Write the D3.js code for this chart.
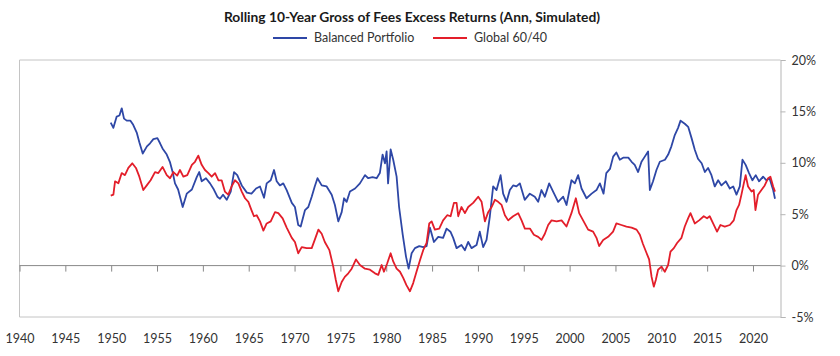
<!DOCTYPE html>
<html><head><meta charset="utf-8">
<script src="https://cdn.jsdelivr.net/npm/d3@7"></script>
<style>
html,body{margin:0;padding:0;background:#fff;}
text{font-family:Lato,"Open Sans",sans-serif;}
</style></head><body>
<svg id="chart" width="840" height="356"></svg>
<script>
const title = "Rolling 10-Year Gross of Fees Excess Returns (Ann, Simulated)";
const seriesNames = ["Balanced Portfolio", "Global 60/40"];
const xTicks = [1940,1945,1950,1955,1960,1965,1970,1975,1980,1985,1990,1995,2000,2005,2010,2015,2020];
const yTicks = [-5,0,5,10,15,20];

const blueDates = [1949.95,1950.24,1950.6,1950.9,1951.15,1951.4,1951.7,1952.1,1952.4,1952.8,1953.07,1953.44,1953.9,1954.24,1954.6,1955.04,1955.33,1955.6,1956.06,1956.4,1956.7,1956.96,1957.3,1957.8,1958.24,1958.8,1959.33,1959.6,1959.87,1960.34,1960.78,1961.2,1961.58,1961.87,1962.2,1962.6,1963.04,1963.4,1963.75,1964.24,1964.8,1965.3,1965.8,1966.23,1966.67,1966.96,1967.4,1967.76,1968.05,1968.4,1968.77,1969.14,1969.7,1970.04,1970.4,1970.67,1971.14,1971.5,1971.87,1972.2,1972.5,1972.96,1973.5,1974.05,1974.4,1974.77,1975.14,1975.4,1975.68,1976.04,1976.6,1977.13,1977.68,1978.04,1978.5,1978.95,1979.3,1979.6,1979.86,1980.04,1980.2,1980.48,1980.76,1981.13,1981.4,1981.8,1982.15,1982.44,1982.77,1983.13,1983.6,1984.03,1984.4,1984.76,1985.2,1985.67,1986.2,1986.58,1987.0,1987.3,1987.67,1988.2,1988.58,1988.94,1989.3,1989.85,1990.2,1990.57,1990.94,1991.3,1991.66,1992.03,1992.47,1992.75,1993.12,1993.48,1993.84,1994.2,1994.57,1995.1,1995.66,1996.2,1996.57,1996.93,1997.3,1997.77,1998.2,1998.75,1999.3,1999.66,2000.2,2000.57,2000.93,2001.3,2001.84,2002.4,2002.93,2003.3,2003.7,2004.0,2004.4,2004.75,2005.1,2005.47,2005.84,2006.4,2006.76,2007.1,2007.47,2007.84,2008.2,2008.56,2008.75,2009.1,2009.47,2009.84,2010.4,2010.75,2011.1,2011.47,2011.83,2012.1,2012.56,2012.93,2013.3,2013.66,2014.0,2014.4,2014.75,2015.1,2015.47,2015.83,2016.2,2016.56,2017.03,2017.47,2017.84,2018.2,2018.56,2018.85,2019.2,2019.57,2019.94,2020.3,2020.66,2021.1,2021.47,2021.8,2022.2,2022.4];
const blueValues = [13.9,13.4,14.5,14.6,15.3,14.3,14.1,14.1,13.7,12.9,12.0,10.9,11.6,11.9,12.3,12.4,11.9,11.4,10.8,10.1,9.1,8.0,7.4,5.7,7.0,7.4,8.6,9.1,8.2,8.5,8.0,7.4,6.7,6.5,6.9,6.4,7.2,9.1,8.8,7.8,7.1,7.0,7.5,7.7,6.6,8.0,8.3,9.3,8.2,7.8,8.0,7.35,6.1,5.7,3.95,3.8,5.4,5.7,6.7,7.7,8.5,7.8,7.7,6.9,5.9,4.3,5.2,6.55,6.2,7.2,7.5,8.0,8.8,8.5,8.6,8.5,9.0,10.8,9.95,11.1,8.0,11.3,10.3,8.65,5.7,3.0,0.9,-0.3,1.2,1.7,1.9,1.8,1.9,3.7,2.3,2.8,2.7,3.6,3.3,2.7,1.7,2.0,1.5,2.3,1.7,2.0,3.3,1.8,2.5,4.8,7.7,7.35,8.8,7.0,6.2,7.35,7.8,7.7,8.0,6.4,7.0,6.7,6.2,7.35,6.7,8.0,7.2,6.2,6.7,5.9,8.3,8.0,8.8,7.5,6.55,7.0,7.35,8.0,7.0,9.0,9.4,10.6,11.0,10.3,10.5,10.5,10.1,9.8,9.1,10.1,10.6,11.1,7.35,8.2,9.3,10.1,10.3,10.8,11.6,12.7,13.4,14.1,13.8,13.5,12.4,11.25,10.4,9.95,9.1,9.5,8.8,7.7,8.3,7.8,8.2,7.5,7.7,6.9,7.7,10.3,9.8,9.0,8.3,8.8,8.2,8.65,8.3,8.5,7.35,6.5];

const redDates = [1949.95,1950.24,1950.42,1950.78,1951.15,1951.5,1951.87,1952.3,1952.7,1953.07,1953.5,1953.88,1954.3,1954.78,1955.14,1955.6,1956.06,1956.42,1956.78,1957.2,1957.5,1957.87,1958.3,1958.8,1959.14,1959.5,1959.87,1960.23,1960.6,1960.96,1961.33,1961.7,1962.05,1962.4,1962.77,1963.14,1963.5,1963.87,1964.24,1964.6,1964.96,1965.3,1965.57,1965.87,1966.23,1966.6,1966.96,1967.4,1967.87,1968.23,1968.7,1969.14,1969.7,1970.04,1970.4,1970.78,1971.32,1971.87,1972.2,1972.6,1972.96,1973.3,1973.8,1974.22,1974.5,1974.77,1975.14,1975.48,1975.86,1976.23,1976.7,1977.13,1977.68,1978.22,1978.77,1979.13,1979.5,1979.75,1980.1,1980.48,1980.76,1981.13,1981.5,1981.85,1982.2,1982.58,1982.94,1983.3,1983.67,1984.03,1984.4,1984.69,1984.95,1985.3,1985.78,1986.2,1986.65,1987.02,1987.38,1987.67,1987.85,1988.2,1988.58,1988.94,1989.48,1990.03,1990.4,1990.76,1991.12,1991.49,1991.85,1992.2,1992.58,1992.94,1993.3,1993.84,1994.39,1994.76,1995.12,1995.67,1996.1,1996.57,1996.94,1997.3,1997.66,1998.03,1998.58,1999.12,1999.66,2000.2,2000.68,2001.04,2001.47,2002.02,2002.56,2002.93,2003.22,2003.66,2004.2,2004.74,2005.1,2005.65,2006.2,2006.76,2007.3,2007.66,2008.0,2008.4,2008.67,2008.94,2009.18,2009.4,2009.65,2010.02,2010.38,2010.74,2011.0,2011.37,2011.72,2012.2,2012.56,2012.92,2013.18,2013.65,2014.12,2014.63,2014.99,2015.28,2015.65,2016.08,2016.45,2016.92,2017.47,2017.9,2018.2,2018.48,2018.74,2019.0,2019.2,2019.46,2019.84,2020.08,2020.27,2020.55,2020.92,2021.28,2021.65,2021.9,2022.2,2022.4];
const redValues = [6.8,6.9,8.2,8.0,9.0,8.8,9.5,9.95,9.5,8.65,7.35,7.8,8.3,9.1,9.0,9.6,8.8,8.5,9.1,8.75,9.3,8.65,8.8,9.8,10.1,10.7,9.8,9.3,9.0,8.65,9.0,8.3,8.3,7.2,6.9,7.7,8.3,8.0,7.2,6.55,6.2,5.4,4.8,4.9,4.3,3.4,4.1,4.3,5.2,5.1,4.6,3.7,2.7,2.3,1.2,1.8,1.7,1.7,2.5,3.5,3.1,2.3,1.5,-0.1,-1.4,-2.5,-1.6,-1.1,-0.75,-0.3,0.6,0.06,-0.3,-0.4,-0.75,-0.9,0.06,-0.6,0.2,1.2,0.4,-0.3,-0.6,-1.2,-1.9,-2.5,-1.7,-0.6,0.5,1.5,2.2,4.1,4.3,3.5,3.6,4.4,4.9,4.8,6.1,6.1,4.8,5.7,5.1,5.7,6.1,6.7,6.2,4.3,5.2,5.7,6.4,6.2,5.9,4.9,4.4,4.8,5.1,4.4,3.6,3.6,3.0,2.8,2.5,3.1,3.95,4.4,4.3,4.4,3.8,5.1,6.55,5.1,4.4,3.5,3.3,2.7,1.9,2.5,2.8,3.3,4.1,3.95,3.8,3.7,3.5,3.0,2.1,1.2,0.6,-1.1,-2.05,-1.4,-0.4,-0.1,-0.6,0.06,1.35,1.7,2.2,2.7,3.8,4.6,5.1,4.1,4.4,4.8,4.6,4.8,4.1,3.3,3.95,3.8,3.95,4.4,5.4,5.9,6.9,8.0,8.8,7.7,7.2,7.35,5.4,6.9,7.35,7.8,8.5,8.65,7.7,7.2];

const colors = ["#2e47a6", "#e31e2a"];

const svg = d3.select("#chart");
const x = d3.scaleLinear().domain([1940, 2023]).range([19.5, 780.5]);
const y = d3.scaleLinear().domain([-5, 20]).range([317, 60]);

// title
svg.append("text").attr("x", 412).attr("y", 22).attr("text-anchor", "middle")
  .style("font-weight", "bold").style("font-size", "13.8px").attr("fill", "#1a1a1a").text(title);

// legend
const legX = [273, 433];
seriesNames.forEach((n, i) => {
  svg.append("line").attr("x1", legX[i]).attr("x2", legX[i] + 34).attr("y1", 38).attr("y2", 38)
    .attr("stroke", colors[i]).attr("stroke-width", 2);
  svg.append("text").attr("x", legX[i] + 41).attr("y", 42).style("font-size", "12.5px")
    .attr("fill", "#333").text(n);
});

// frame
const g = svg.append("g");
g.append("line").attr("x1", x(1940)).attr("x2", x(2023)).attr("y1", y(20)).attr("y2", y(20)).attr("stroke", "#c4c4c4");
g.append("line").attr("x1", x(1940)).attr("x2", x(2023)).attr("y1", y(-5)).attr("y2", y(-5)).attr("stroke", "#c4c4c4");
g.append("line").attr("x1", x(1940)).attr("x2", x(1940)).attr("y1", y(20)).attr("y2", y(-5)).attr("stroke", "#c4c4c4");

// right axis
const yAxis = d3.axisRight(y).tickValues(yTicks).tickSize(5).tickPadding(6).tickFormat(d => d + "%");
const ya = svg.append("g").attr("transform", `translate(${x(2023)},0)`).call(yAxis);
ya.select(".domain").attr("stroke", "#b5b5b5");
ya.selectAll(".tick line").attr("stroke", "#b5b5b5");
ya.selectAll("text").style("font-size", "12.5px").style("font-family", "Lato,sans-serif").attr("fill", "#333");

// zero axis with ticks
const xAxis = d3.axisBottom(x).tickValues(xTicks).tickSize(6).tickFormat(d3.format("d"));
const xa = svg.append("g").attr("transform", `translate(0,${y(0)})`).call(xAxis);
xa.select(".domain").attr("stroke", "#888").attr("d", `M${x(1940)},0H${x(2023)}`);
xa.selectAll(".tick line").attr("stroke", "#888");
xa.selectAll("text").attr("y", 0).attr("dy", 0)
  .attr("transform", `translate(0,${343 - y(0)})`)
  .style("font-size", "12.5px").style("font-family", "Lato,sans-serif").attr("fill", "#333");

// lines
const line = d3.line().x(d => x(d[0])).y(d => y(d[1]));
const blue = blueDates.map((d, i) => [d, blueValues[i]]);
const red = redDates.map((d, i) => [d, redValues[i]]);
svg.append("path").datum(blue).attr("d", line).attr("fill", "none").attr("stroke", colors[0]).attr("stroke-width", 1.8).attr("stroke-linejoin", "round");
svg.append("path").datum(red).attr("d", line).attr("fill", "none").attr("stroke", colors[1]).attr("stroke-width", 1.8).attr("stroke-linejoin", "round");
</script>
</body></html>
